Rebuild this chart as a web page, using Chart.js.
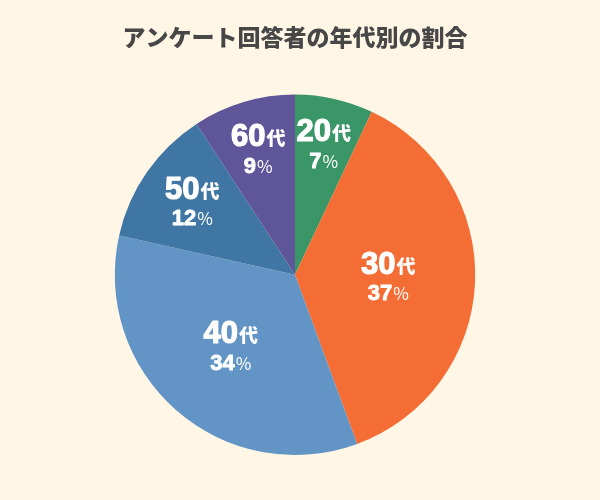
<!DOCTYPE html>
<html lang="ja">
<head>
<meta charset="utf-8">
<script src="https://cdn.jsdelivr.net/npm/chart.js@4"></script>
<style>
  html, body { margin: 0; padding: 0; background: #fff6e6; }
  #wrap { width: 600px; height: 500px; }
</style>
</head>
<body>
<div id="wrap"><canvas id="age-chart"></canvas></div>
<script>
// 年代別の割合 (%)
const ageGroups = ['20', '30', '40', '50', '60'];
const shares = [7.0, 37.4, 34.1, 12.3, 9.2];
const sliceColors = ['#3a9567', '#f36d34', '#6295c6', '#3f76a3', '#5e5698'];

const titleText = 'アンケート回答者の年代別の割合';
const numFont = '"Liberation Sans", Arial, sans-serif';
const jpFont = '"Noto Sans CJK JP", sans-serif';

// draws "20代 / 7%" inside each slice
const sliceLabels = {
    id: 'sliceLabels',
    afterDatasetsDraw(chart) {
        const ctx = chart.ctx;
        const meta = chart.getDatasetMeta(0);
        const total = shares.reduce((a, b) => a + b, 0);
        ctx.save();
        ctx.fillStyle = '#ffffff';
        ctx.strokeStyle = '#ffffff';
        ctx.lineJoin = 'round';
        ctx.textBaseline = 'alphabetic';
        ctx.textAlign = 'left';
        meta.data.forEach((arc, i) => {
            const pct = shares[i] / total * 100;
            const mid = (arc.startAngle + arc.endAngle) / 2;
            // small slices push their label further out
            const r = arc.outerRadius * (0.78 - 0.007 * pct);
            const px = arc.x + Math.cos(mid) * r;
            const py = arc.y + Math.sin(mid) * r;

            // row 1: age + 代
            const big = 'bold 31px ' + numFont;
            const kanji = '900 19px ' + jpFont;
            ctx.font = big;
            const w1 = ctx.measureText(ageGroups[i]).width;
            ctx.font = kanji;
            const w2 = ctx.measureText('代').width;
            let x = px - (w1 + 1 + w2) / 2;
            ctx.font = big;
            ctx.lineWidth = 1.2;
            ctx.fillText(ageGroups[i], x, py - 5);
            ctx.strokeText(ageGroups[i], x, py - 5);
            ctx.font = kanji;
            ctx.fillText('代', x + w1 + 1, py - 5);

            // row 2: percent
            const pctText = String(Math.round(pct));
            const mid1 = 'bold 22px ' + numFont;
            const sign = '17px ' + jpFont;
            ctx.font = mid1;
            const w3 = ctx.measureText(pctText).width;
            ctx.font = sign;
            const w4 = ctx.measureText('%').width;
            x = px - (w3 + 1 + w4) / 2;
            ctx.font = mid1;
            ctx.lineWidth = 0.8;
            ctx.fillText(pctText, x, py + 21.5);
            ctx.strokeText(pctText, x, py + 21.5);
            ctx.font = sign;
            ctx.fillText('%', x + w3 + 1, py + 21.5);
        });
        ctx.restore();
    }
};

const bgFill = {
    id: 'bgFill',
    beforeDraw(chart) {
        const ctx = chart.ctx;
        ctx.save();
        ctx.fillStyle = '#fff6e6';
        ctx.fillRect(0, 0, chart.width, chart.height);
        ctx.restore();
    }
};

new Chart(document.getElementById('age-chart'), {
    type: 'pie',
    data: {
        labels: ageGroups.map(a => a + '代'),
        datasets: [{
            data: shares,
            backgroundColor: sliceColors,
            borderWidth: 0
        }]
    },
    options: {
        responsive: true,
        maintainAspectRatio: false,
        animation: false,
        layout: { padding: { top: 0, right: 10, bottom: 45, left: 0 } },
        plugins: {
            legend: { display: false },
            tooltip: { enabled: false },
            title: {
                display: true,
                text: titleText,
                color: '#474747',
                font: { family: jpFont, size: 23, weight: '900' },
                padding: { top: 23, bottom: 44 }
            }
        }
    },
    plugins: [bgFill, sliceLabels]
});
</script>
</body>
</html>
